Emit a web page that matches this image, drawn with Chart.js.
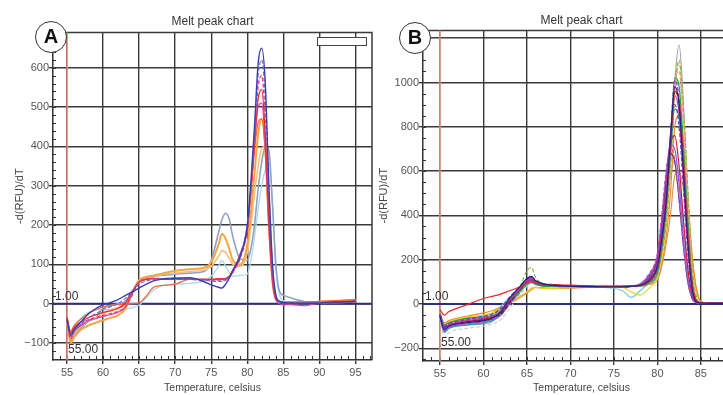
<!DOCTYPE html>
<html>
<head>
<meta charset="utf-8">
<title>Melt peak chart</title>
<script src="https://cdn.jsdelivr.net/npm/chart.js@4.4.0/dist/chart.umd.min.js"></script>
<style>
  html, body { margin: 0; padding: 0; background: #fff; overflow: hidden; }
  #wrap { position: relative; width: 723px; height: 395px; overflow: hidden; background: #fff; }
  canvas { position: absolute; top: 0; }
  #chart-a { left: 0; }
  #chart-b { left: 372px; }
  .badge {
    position: absolute; box-sizing: border-box; width: 32px; height: 32px;
    border: 1.5px solid #333; border-radius: 50%; background: #fff; color: #111;
    font: bold 20px "Liberation Sans", Arial, sans-serif; text-align: center; line-height: 29px;
  }
  #badge-a { left: 35px; top: 21px; }
  #badge-b { left: 399px; top: 22px; }
  #legend-a {
    position: absolute; left: 317px; top: 37px; width: 50px; height: 9px; box-sizing: border-box;
    border: 1.5px solid #444; background: #fff;
  }
</style>
</head>
<body>
<div id="wrap">
  <canvas id="chart-a" width="380" height="395"></canvas>
  <canvas id="chart-b" width="368" height="395"></canvas>
  <div id="legend-a"></div>
  <div class="badge" id="badge-a">A</div>
  <div class="badge" id="badge-b">B</div>
</div>
<script>
// temperatures (celsius) sampled for each panel
const tempsA = [55, 55.5, 56, 57, 58, 59, 60, 61, 62, 63, 64, 65, 66, 67, 68, 70, 72, 74, 75, 76, 76.5, 77, 77.5, 78, 79, 80, 80.5, 81, 81.5, 82, 82.5, 83, 83.5, 84, 84.5, 85, 86, 88, 90, 92, 94, 95];
const tempsB = [55, 55.5, 56, 58, 60, 61, 62, 63, 64, 65, 65.5, 66, 67, 68, 70, 72, 74, 76, 77, 78, 79, 80, 80.5, 81, 81.5, 82, 82.5, 83, 83.5, 84, 84.5, 85, 86, 88, 90];

const xTickValues = [55, 60, 65, 70, 75, 80, 85, 90, 95];
const yTicksA = [-100, 0, 100, 200, 300, 400, 500, 600];
const yTicksB = [-200, 0, 200, 400, 600, 800, 1000, 1200];

// panel A, -d(RFU)/dT
const blueA = [-40, -80, -65, -45, -25, -12, -3, 3, 10, 20, 30, 40, 50, 58, 62, 65, 66, 56, 48, 42, 40, 50, 65, 85, 120, 200, 310, 450, 610, 650, 560, 300, 100, 20, 6, 3, 2, 1, 2, 4, 5, 6];
const violetA = [-42, -85, -70, -50, -35, -25, -15, -8, 0, 12, 30, 50, 58, 62, 64, 65, 64, 60, 58, 57, 57, 60, 68, 85, 125, 200, 300, 440, 580, 620, 520, 280, 90, 15, 5, 3, 2, 2, 3, 4, 5, 5];
const crimsonA = [-45, -90, -70, -52, -40, -35, -30, -25, -20, -10, 20, 55, 63, 65, 64, 62, 62, 60, 60, 60, 60, 62, 68, 80, 115, 190, 290, 420, 550, 580, 470, 250, 80, 15, 5, 3, 2, 2, 3, 4, 5, 5];
const redA = [-35, -75, -60, -45, -35, -28, -22, -18, -12, 0, 30, 55, 62, 64, 63, 62, 62, 62, 62, 63, 63, 64, 70, 85, 125, 190, 290, 410, 520, 545, 430, 220, 70, 12, 5, 3, 2, 2, 3, 5, 6, 7];
const magentaA = [-40, -85, -70, -55, -42, -38, -32, -28, -22, -10, 25, 55, 62, 64, 64, 63, 63, 62, 61, 62, 62, 63, 68, 80, 120, 190, 290, 410, 500, 510, 400, 200, 60, 8, 0, -3, -2, -5, 2, 4, 5, 6];
const orangeRedA = [-35, -70, -55, -38, -25, -15, -8, -4, -2, -1, 0, 2, 20, 42, 46, 50, 62, 62, 62, 63, 63, 64, 70, 84, 125, 190, 280, 390, 460, 470, 380, 190, 55, 10, 5, 4, 4, 5, 6, 8, 10, 10];
const orangeA = [-50, -100, -85, -65, -55, -48, -42, -36, -30, -15, 25, 60, 68, 72, 76, 84, 88, 92, 105, 150, 178, 165, 140, 110, 100, 150, 230, 330, 430, 470, 400, 200, 55, 10, 5, 4, 4, 4, 5, 6, 8, 10];
const paleOrangeA = [-45, -90, -75, -55, -42, -35, -25, -15, -10, -5, 25, 58, 66, 70, 74, 78, 82, 86, 95, 120, 135, 130, 115, 100, 95, 130, 200, 280, 350, 395, 400, 280, 90, 15, 5, 4, 4, 4, 5, 6, 7, 8];
const slateA = [-45, -95, -80, -60, -45, -35, -12, -5, 0, 5, 30, 60, 68, 70, 72, 75, 78, 82, 110, 180, 215, 230, 215, 170, 115, 110, 140, 200, 290, 360, 400, 390, 250, 90, 30, 22, 15, 5, 3, 3, 4, 5];
const cyanA = [-40, -70, -60, -35, -22, -15, -15, -15, -15, -14, -10, -3, 15, 35, 45, 50, 52, 58, 70, 95, 110, 95, 80, 70, 72, 75, 110, 170, 240, 300, 340, 360, 250, 80, 20, 8, 4, 3, 3, 4, 5, 5];

const seriesA = [blueA, violetA, crimsonA, redA, magentaA, orangeRedA, orangeA, paleOrangeA, slateA, cyanA];
const colorsA = ["#3a3fb0", "#7a6ad6", "#e3406e", "#e02a2a", "#d245a8", "#f0683a", "#f5a445", "#f7c07e", "#8ea3c0", "#a9dbe9"];
const dashedA = [false, true, true, false, false, false, false, false, false, false];
const widthsA = [1.4, 1.2, 1.3, 1.3, 1.2, 1.3, 2, 1.6, 1.6, 1.3];

// panel B, -d(RFU)/dT
const grayB = [-60, -130, -110, -95, -90, -80, -40, 20, 60, 110, 120, 100, 85, 85, 80, 80, 78, 80, 82, 85, 100, 140, 230, 380, 640, 1000, 1170, 900, 500, 150, 20, 5, 3, 3, 3];
const oliveB = [-50, -110, -95, -80, -75, -70, -45, 10, 60, 150, 165, 120, 90, 85, 82, 80, 80, 80, 82, 85, 95, 130, 220, 360, 610, 960, 1100, 880, 520, 180, 30, 5, 4, 3, 3];
const yellowB = [-40, -90, -80, -60, -50, -40, -20, 10, 30, 55, 70, 75, 70, 70, 75, 78, 80, 75, 55, 40, 70, 120, 210, 350, 600, 950, 1080, 850, 480, 150, 25, 5, 3, 3, 3];
const pinkB = [-50, -120, -100, -85, -80, -72, -50, 0, 40, 95, 110, 100, 85, 82, 82, 80, 80, 78, 78, 80, 90, 140, 240, 400, 660, 1000, 1050, 820, 450, 130, 20, 5, 3, 3, 3];
const greenB = [-40, -95, -85, -65, -60, -55, -30, 20, 50, 90, 100, 90, 80, 80, 78, 78, 76, 78, 80, 82, 95, 160, 270, 440, 720, 1020, 980, 700, 380, 100, 15, 5, 3, 3, 3];
const purpleB = [-45, -100, -90, -70, -60, -50, -20, 30, 70, 110, 120, 100, 88, 85, 82, 80, 80, 80, 80, 85, 110, 180, 300, 480, 760, 1010, 920, 620, 300, 80, 12, 5, 3, 3, 3];
const navyB = [-55, -115, -100, -85, -75, -65, -35, 25, 70, 115, 125, 105, 90, 85, 80, 80, 78, 78, 80, 85, 105, 170, 290, 460, 740, 980, 900, 600, 280, 70, 10, 5, 3, 3, 3];
const redB = [-25, -50, -35, -5, 25, 35, 45, 60, 75, 95, 100, 95, 90, 88, 85, 82, 80, 80, 80, 85, 100, 160, 280, 450, 710, 960, 920, 650, 320, 90, 15, 5, 3, 3, 3];
const magentaB = [-50, -110, -95, -75, -65, -55, -35, 20, 60, 105, 115, 100, 88, 85, 82, 80, 80, 80, 80, 85, 110, 180, 310, 500, 760, 940, 860, 560, 260, 60, 10, 5, 3, 3, 3];
const blueB = [-45, -100, -90, -70, -55, -45, -20, 30, 70, 100, 110, 95, 85, 82, 80, 78, 78, 78, 80, 85, 110, 190, 330, 520, 760, 900, 800, 520, 230, 55, 10, 5, 3, 3, 3];
const tealB = [-55, -125, -110, -95, -85, -75, -50, 0, 45, 90, 100, 90, 82, 80, 80, 78, 78, 78, 80, 82, 95, 140, 250, 420, 680, 880, 840, 600, 300, 90, 15, 5, 3, 3, 3];
const orangeB = [-40, -85, -75, -55, -40, -30, -15, 5, 25, 50, 65, 75, 72, 70, 72, 75, 78, 80, 82, 82, 90, 110, 180, 300, 500, 800, 850, 720, 480, 220, 60, 10, 4, 3, 3];
const crimsonB = [-50, -105, -95, -80, -70, -60, -40, 10, 55, 100, 110, 95, 85, 82, 80, 78, 78, 78, 80, 85, 115, 200, 340, 540, 720, 760, 620, 380, 160, 40, 8, 5, 3, 3, 3];
const violetB = [-55, -120, -105, -90, -80, -70, -50, 0, 50, 100, 115, 100, 88, 85, 82, 80, 80, 80, 82, 90, 130, 220, 380, 580, 720, 700, 540, 300, 120, 30, 6, 5, 3, 3, 3];
const roseB = [-45, -95, -85, -70, -60, -55, -35, 15, 55, 95, 105, 92, 85, 82, 80, 80, 78, 78, 80, 90, 135, 230, 400, 600, 710, 650, 480, 260, 100, 25, 6, 5, 3, 3, 3];
const indigoB = [-50, -110, -100, -80, -70, -60, -40, 10, 55, 100, 110, 95, 85, 82, 80, 78, 78, 78, 80, 88, 125, 210, 370, 560, 680, 640, 470, 260, 100, 25, 6, 5, 3, 3, 3];
const cyanB = [-40, -90, -80, -60, -50, -40, -10, 30, 60, 85, 95, 88, 82, 80, 80, 78, 75, 60, 30, 60, 95, 150, 260, 420, 580, 650, 560, 360, 160, 40, 8, 5, 3, 3, 3];
const silverB = [-65, -150, -130, -110, -100, -90, -70, -20, 30, 80, 100, 95, 85, 82, 80, 80, 78, 78, 80, 82, 92, 130, 220, 380, 650, 1000, 1000, 760, 420, 130, 20, 5, 3, 3, 3];
const blackB = [-50, -105, -95, -80, -70, -60, -45, 5, 55, 110, 125, 105, 90, 85, 82, 80, 78, 78, 80, 84, 100, 160, 270, 440, 710, 960, 900, 640, 320, 90, 15, 5, 3, 3, 3];
const skyB = [-50, -115, -100, -80, -72, -65, -40, 10, 50, 85, 95, 90, 84, 82, 80, 80, 78, 78, 80, 84, 98, 150, 260, 420, 690, 920, 880, 620, 300, 90, 15, 5, 3, 3, 3];
const tanB = [-45, -95, -85, -65, -55, -45, -25, 5, 30, 55, 70, 75, 72, 72, 74, 76, 78, 80, 80, 82, 88, 110, 170, 270, 400, 580, 600, 520, 380, 200, 70, 12, 4, 3, 3];

const seriesB = [navyB, redB, purpleB, magentaB, blueB, greenB, blackB, crimsonB, violetB, roseB, indigoB, tealB, pinkB, oliveB, yellowB, orangeB, cyanB, skyB, tanB, grayB, silverB];
const colorsB = ["#23247e", "#e42a2a", "#8043c2", "#d42aa2", "#2a5ad4", "#2fa43a", "#333333", "#c41c46", "#9658e0", "#e44a78", "#3636a8", "#25a3a3", "#f08ab8", "#86b84e", "#f0d226", "#f28a2a", "#66cbe2", "#86acea", "#d89a4c", "#a2a2a2", "#cfcfcf"];
const dashedB = [false, false, true, false, true, false, true, false, false, true, false, false, true, true, false, false, false, true, false, false, true];

const fontFamily = '"Liberation Sans", Arial, sans-serif';

const meltDecor = {
  id: "meltDecor",
  beforeDatasetsDraw(chart, args, opts) {
    const { ctx, chartArea: a, scales: { x, y } } = chart;
    ctx.save();

    // frame
    ctx.strokeStyle = "#3a3a3a";
    ctx.lineWidth = 1.5;
    ctx.beginPath();
    ctx.moveTo(a.left, a.top);
    ctx.lineTo(a.right, a.top);
    ctx.lineTo(a.right, a.bottom);
    ctx.stroke();

    // minor ticks pointing into the plot
    ctx.lineWidth = 1;
    ctx.strokeStyle = "#333";
    ctx.beginPath();
    for (let v = Math.ceil(x.min); v <= x.max; v += 1) {
      const px = Math.round(x.getPixelForValue(v)) + 0.5;
      ctx.moveTo(px, a.bottom);
      ctx.lineTo(px, a.bottom - 4);
    }
    for (let v = Math.ceil(y.min / opts.yMinor) * opts.yMinor; v <= y.max; v += opts.yMinor) {
      const py = Math.round(y.getPixelForValue(v)) + 0.5;
      ctx.moveTo(a.left, py);
      ctx.lineTo(a.left + 3, py);
    }
    ctx.stroke();

    // start temperature marker
    const sx = x.getPixelForValue(55);
    ctx.strokeStyle = "#f39484";
    ctx.lineWidth = 1.5;
    ctx.beginPath();
    ctx.moveTo(sx, a.top);
    ctx.lineTo(sx, a.bottom);
    ctx.stroke();

    // threshold line
    const zy = y.getPixelForValue(0);
    ctx.strokeStyle = "#2c2f78";
    ctx.lineWidth = 2;
    ctx.beginPath();
    ctx.moveTo(a.left, zy);
    ctx.lineTo(a.right, zy);
    ctx.stroke();

    ctx.restore();
  },
  afterDraw(chart, args, opts) {
    const { ctx, chartArea: a, scales: { x, y } } = chart;
    ctx.save();
    ctx.fillStyle = "#333";
    ctx.font = "12px " + fontFamily;
    ctx.textBaseline = "middle";
    ctx.textAlign = "left";
    ctx.fillText("1.00", a.left + 2, y.getPixelForValue(0) - 7);
    ctx.fillText("55.00", x.getPixelForValue(55) + 1, a.bottom - opts.startLabelOffset);
    ctx.restore();
  },
};

function buildDatasets(temps, series, colors, dashed, widths) {
  return series.map((values, i) => ({
    data: values.map((v, j) => ({ x: temps[j], y: v })),
    borderColor: colors[i],
    borderWidth: widths ? widths[i] : 1.2,
    borderDash: dashed[i] ? [4, 2] : [],
    pointRadius: 0,
    cubicInterpolationMode: "monotone",
    fill: false,
  }));
}

function formatTick(v) {
  return String(v).replace("-", "\u2212");
}

// only keep ticks that fall inside the visible range
function ticksInRange(values, scale) {
  return values.filter((v) => v >= scale.min && v <= scale.max).map((v) => ({ value: v }));
}

function makeOptions(cfg) {
  return {
    responsive: false,
    animation: false,
    events: [],
    layout: { padding: { left: cfg.padLeft, right: cfg.padRight, top: 0, bottom: 0 } },
    plugins: {
      legend: { display: false },
      tooltip: { enabled: false },
      title: {
        display: true,
        text: "Melt peak chart",
        fullSize: false,
        color: "#333",
        font: { family: fontFamily, size: 12, weight: "normal" },
        padding: { top: cfg.titleTop, bottom: cfg.titleBottom },
      },
      meltDecor: { yMinor: cfg.yMinor, startLabelOffset: cfg.startLabelOffset },
    },
    scales: {
      x: {
        type: "linear",
        min: cfg.xMin,
        max: cfg.xMax,
        afterBuildTicks: (s) => { s.ticks = ticksInRange(xTickValues, s); },
        afterFit: (s) => { s.height = cfg.xHeight; },
        grid: { color: "#3a3a3a", lineWidth: 1.4, tickLength: 4 },
        border: { color: "#333", width: 1.5 },
        ticks: { color: "#555", font: { family: fontFamily, size: 11 }, padding: 2, maxRotation: 0, autoSkip: false, callback: formatTick },
        title: { display: true, text: "Temperature, celsius", color: "#444", font: { family: fontFamily, size: 10.5 }, padding: { top: 0, bottom: 1 } },
      },
      y: {
        type: "linear",
        min: cfg.yMin,
        max: cfg.yMax,
        afterBuildTicks: (s) => { s.ticks = ticksInRange(cfg.yTicks, s); },
        afterFit: (s) => { s.width = cfg.yWidth; },
        grid: { color: "#3a3a3a", lineWidth: 1.4, tickLength: 4 },
        border: { color: "#333", width: 1.5 },
        ticks: { color: "#555", font: { family: fontFamily, size: 11 }, padding: 0, autoSkip: false, callback: (v) => (v > cfg.yLabelMax ? "" : formatTick(v)) },
        title: { display: true, text: "-d(RFU)/dT", color: "#444", font: { family: fontFamily, size: 11 }, padding: { top: 5, bottom: 0 } },
      },
    },
  };
}

function main() {
  new Chart(document.getElementById("chart-a"), {
    type: "line",
    data: { datasets: buildDatasets(tempsA, seriesA, colorsA, dashedA, widthsA) },
    options: makeOptions({
      padLeft: 8, padRight: 8, titleTop: 14, titleBottom: 4,
      xMin: 53.05, xMax: 97.3, xHeight: 35, yWidth: 45,
      yMin: -143, yMax: 690, yTicks: yTicksA, yLabelMax: 600, yMinor: 20,
      startLabelOffset: 10,
    }),
    plugins: [meltDecor],
  });

  new Chart(document.getElementById("chart-b"), {
    type: "line",
    data: { datasets: buildDatasets(tempsB, seriesB, colorsB, dashedB) },
    options: makeOptions({
      padLeft: 0, padRight: 0, titleTop: 13, titleBottom: 3,
      xMin: 53.05, xMax: 89.5, xHeight: 34, yWidth: 51,
      yMin: -257, yMax: 1235, yTicks: yTicksB, yLabelMax: 1000, yMinor: 50,
      startLabelOffset: 18,
    }),
    plugins: [meltDecor],
  });
}

document.addEventListener("DOMContentLoaded", () => main());
</script>
</body>
</html>
